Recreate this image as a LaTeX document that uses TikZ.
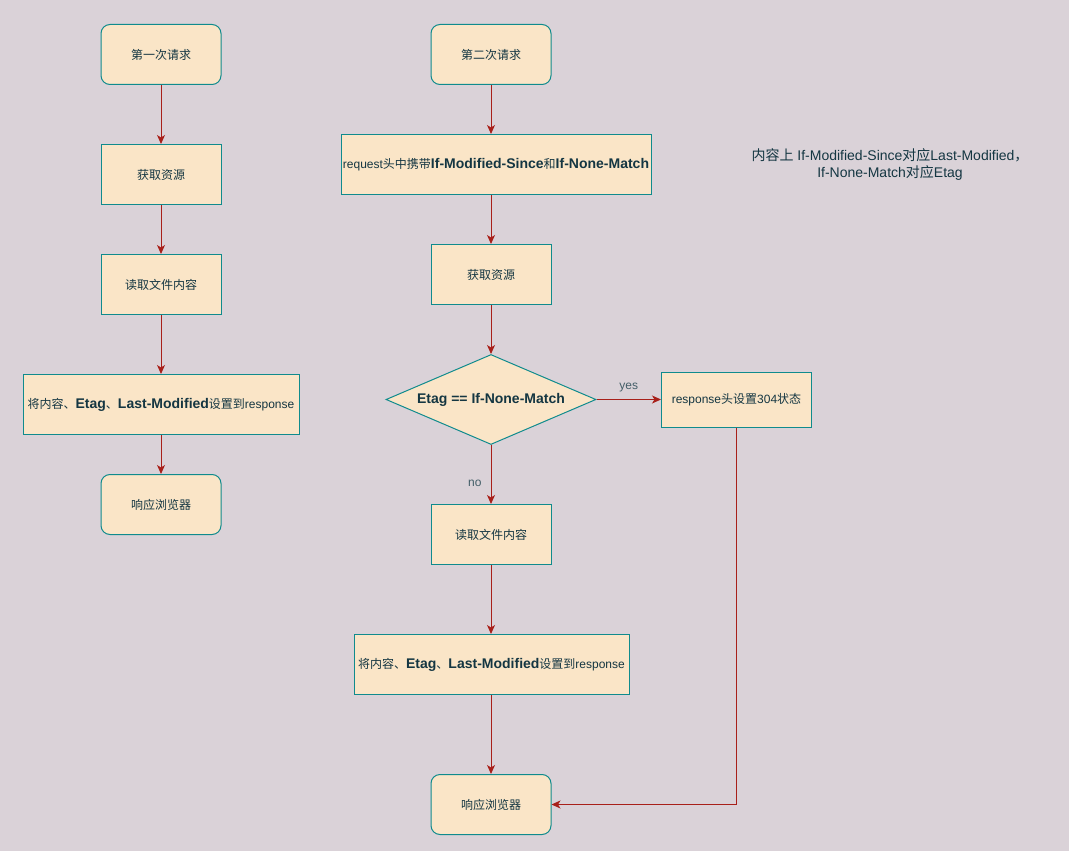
\documentclass[tikz,border=0pt]{standalone}
\usepackage{fontspec}
\setmainfont{Liberation Sans}
\newfontfamily\cjk{Noto Sans CJK SC}
\usetikzlibrary{shapes.geometric,arrows.meta}
\definecolor{bgc}{HTML}{DAD2D8}
\definecolor{boxfill}{HTML}{FAE5C7}
\definecolor{boxline}{HTML}{0F8B8D}
\definecolor{arrowc}{HTML}{A8201A}
\definecolor{txt}{HTML}{143642}
\newcommand{\bigbold}[1]{{\fontsize{14}{16}\selectfont\bfseries #1}}
\tikzset{
  base/.style={draw=boxline, fill=boxfill, line width=1pt, text=txt, inner sep=0pt,
    font=\fontsize{12}{14}\selectfont},
  procbox/.style={base, rectangle, minimum width=120, minimum height=60},
  widebox/.style={base, rectangle, minimum width=276, minimum height=60},
  roundbox/.style={base, rectangle, rounded corners=9pt, minimum width=120, minimum height=60},
  decision/.style={base, diamond, aspect=2.33, minimum width=210, minimum height=90},
  flow/.style={draw=arrowc, line width=1pt, -{Stealth[length=9pt,width=8pt,inset=2.5pt]}},
  lbl/.style={text=txt!80, font=\fontsize{12}{14}\selectfont, inner sep=1pt},
}
\begin{document}
\begin{tikzpicture}[x=1pt,y=-1pt]
\useasboundingbox (0,0) rectangle (1069,851);
\fill[bgc] (0,0) rectangle (1069,851);

% left column
\node[roundbox] (l1) at (161,54.5) {\cjk 第一次请求};
\node[procbox] (l2) at (161,174.5) {\cjk 获取资源};
\node[procbox] (l3) at (161,284.5) {\cjk 读取文件内容};
\node[widebox] (l4) at (161,404.5) {{\cjk 将内容、}\bigbold{Etag}{\cjk 、}\bigbold{Last-Modified}{\cjk 设置到}response};
\node[roundbox] (l5) at (161,504.5) {\cjk 响应浏览器};

\draw[flow] (l1) -- (l2);
\draw[flow] (l2) -- (l3);
\draw[flow] (l3) -- (l4);
\draw[flow] (l4) -- (l5);

% middle column
\node[roundbox] (m1) at (491,54.5) {\cjk 第二次请求};
\node[base, rectangle, minimum width=310, minimum height=60] (m2) at (496,164.5)
  {request{\cjk 头中携带}\bigbold{If-Modified-Since}{\cjk 和}\bigbold{If-None-Match}};
\node[procbox] (m3) at (491,274.5) {\cjk 获取资源};
\node[decision] (m4) at (491,399.5) {\bigbold{Etag == If-None-Match}};
\node[base, rectangle, minimum width=150, minimum height=55] (m5) at (736.5,399.5)
  {response{\cjk 头设置}304{\cjk 状态}};
\node[procbox] (m6) at (491,534.5) {\cjk 读取文件内容};
\node[widebox, minimum width=275] (m7) at (491.5,664.5) {{\cjk 将内容、}\bigbold{Etag}{\cjk 、}\bigbold{Last-Modified}{\cjk 设置到}response};
\node[roundbox] (m8) at (491,804.5) {\cjk 响应浏览器};

\draw[flow] (m1) -- (m1 |- m2.north);
\draw[flow] (m2.south -| m3) -- (m3);
\draw[flow] (m3) -- (m4);
\draw[flow] (m4) -- node[lbl, pos=0.5, above=6pt] {yes} (m5);
\draw[flow] (m4) -- node[lbl, pos=0.65, left=8pt] {no} (m6);
\draw[flow] (m6) -- (m7.north -| m6);
\draw[flow] (m7.south -| m8) -- (m8);
\draw[flow] (m5.south) |- (m8.east);

% note
\node[text=txt, font=\fontsize{14}{17}\selectfont, align=center] (note) at (890,164.5)
  {{\cjk 内容上} If-Modified-Since{\cjk 对应}Last-Modified{\cjk ，}\\If-None-Match{\cjk 对应}Etag};
\end{tikzpicture}
\end{document}
